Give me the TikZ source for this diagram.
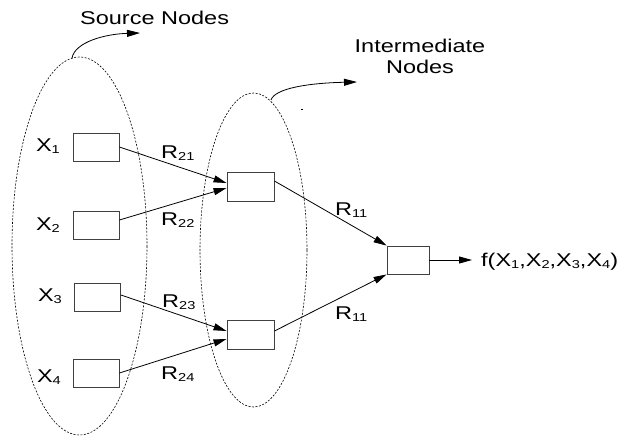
\documentclass[tikz,border=0pt]{standalone}
\usepackage{fontspec}
\setmainfont{Liberation Sans}[FakeStretch=1.27]
\usetikzlibrary{arrows.meta}
\newcommand\sbs[1]{\raisebox{-2pt}{\fontsize{11.5}{12}\selectfont #1}}
\begin{document}
\begin{tikzpicture}[x=1pt,y=-1pt,
  lbl/.style={inner sep=0pt,font=\fontsize{18.5}{21}\selectfont},
  box/.style={draw=black!75,line width=0.9pt,minimum width=46pt,minimum height=28pt,inner sep=0pt},
  conn/.style={line width=0.8pt,-{Triangle[length=13pt,width=7pt]}},
  grp/.style={dash pattern=on 2pt off 1.5pt,line width=0.6pt}]
\useasboundingbox (0,0) rectangle (621,436);
% groups
\draw[grp] (79.5,246) ellipse [x radius=67.5, y radius=189];
\draw[grp] (253.5,250) ellipse [x radius=53.5, y radius=157];
% boxes
\node[box] (s1) at (96,147) {};
\node[box] (s2) at (96,225) {};
\node[box] (s3) at (97.5,297) {};
\node[box] (s4) at (96,373) {};
\node[box,minimum width=47pt,minimum height=29pt] (m1) at (250.5,186.5) {};
\node[box,minimum width=47pt,minimum height=29pt] (m2) at (250.5,334.5) {};
\node[box,minimum width=42pt] (f) at (408,260) {};
\coordinate (out) at (472,260);
% labels
\node[lbl,anchor=base east] (x1) at (60,151) {X\sbs{1}};
\node[lbl,anchor=base east] (x2) at (60,230) {X\sbs{2}};
\node[lbl,anchor=base east] (x3) at (62,301) {X\sbs{3}};
\node[lbl,anchor=base east] (x4) at (61,382) {X\sbs{4}};
\node[lbl,anchor=base west] (r21) at (161,158) {R\sbs{21}};
\node[lbl,anchor=base west] (r22) at (161,225) {R\sbs{22}};
\node[lbl,anchor=base west] (r23) at (162,307) {R\sbs{23}};
\node[lbl,anchor=base west] (r24) at (161,379) {R\sbs{24}};
\node[lbl,anchor=base west] (r11a) at (335,215) {R\sbs{11}};
\node[lbl,anchor=base west] (r11b) at (335,319) {R\sbs{11}};
\node[lbl,anchor=base west] (fx) at (481,266) {f(X\sbs{1},X\sbs{2},X\sbs{3},X\sbs{4})};
\node[lbl,anchor=base west] (srcl) at (80,25) {Source Nodes};
\node[lbl,align=center,anchor=base] (intl) at (420,73.5) {Intermediate\\Nodes};
% pointer curves
\coordinate (srcs) at (72,58);
\coordinate (srce) at (140,33);
\draw[conn] (srcs) .. controls (75,42) and (105,34) .. (srce);
\coordinate (ints) at (271,100);
\coordinate (inte) at (357,82);
\draw[conn] (ints) .. controls (275,88) and (310,83) .. (inte);
\fill (301,108.5) rectangle (303,109.6);
% connectors
\draw[conn] (s1.east) -- ([yshift=3.5pt]m1.west);
\draw[conn] ([yshift=5pt]s2.east) -- ([yshift=-1.5pt]m1.west);
\draw[conn] ([yshift=2pt]s3.east) -- ([yshift=3.5pt]m2.west);
\draw[conn] (s4.east) -- ([yshift=-4.5pt]m2.west);
\draw[conn] ([yshift=5.5pt]m1.east) -- (f.north west);
\draw[conn] ([yshift=3.5pt]m2.east) -- (f.south west);
\draw[conn] (f.east) -- (out);
\end{tikzpicture}
\end{document}
